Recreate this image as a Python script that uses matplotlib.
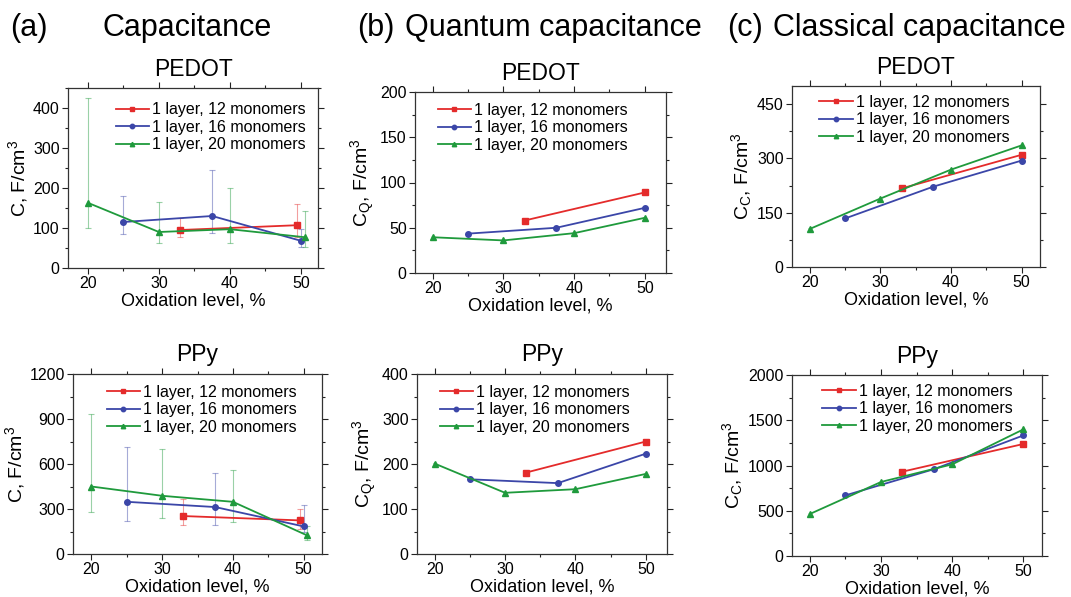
import matplotlib
matplotlib.use("Agg")

import numpy as np
import matplotlib.pyplot as plt
from matplotlib.ticker import MultipleLocator

plt.rcParams["font.family"] = ["Liberation Sans", "DejaVu Sans"]
plt.rcParams["mathtext.fontset"] = "custom"
plt.rcParams["mathtext.rm"] = "Liberation Sans"
plt.rcParams["mathtext.it"] = "Liberation Sans"

# ---------------------------------------------------------------------------
# Data
# ---------------------------------------------------------------------------
LABELS = ["1 layer, 12 monomers", "1 layer, 16 monomers", "1 layer, 20 monomers"]
COLORS = ["#e42b2b", "#3b46a8", "#1f9a3c"]
MARKERS = ["s", "o", "^"]

# oxidation levels (slight offsets at 50 % in panel a, as in the original)
x12 = [33, 50]
x16 = [25, 37.5, 50]
x20 = [20, 30, 40, 50]
x12_err = [33, 49.5]
x20_err = [20, 30, 40, 50.5]

# (a) total capacitance, with error bars (low / high)
c_pedot_12 = [95, 107]
c_pedot_12_lo = [77, 78]
c_pedot_12_hi = [124, 160]
c_pedot_16 = [115, 130, 68]
c_pedot_16_lo = [85, 88, 52]
c_pedot_16_hi = [181, 244, 97]
c_pedot_20 = [163, 90, 97, 77]
c_pedot_20_lo = [101, 62, 62, 52]
c_pedot_20_hi = [425, 164, 201, 143]

c_ppy_12 = [253, 224]
c_ppy_12_lo = [191, 165]
c_ppy_12_hi = [368, 300]
c_ppy_16 = [348, 313, 184]
c_ppy_16_lo = [217, 191, 144]
c_ppy_16_hi = [716, 543, 326]
c_ppy_20 = [450, 388, 348, 124]
c_ppy_20_lo = [280, 237, 213, 91]
c_ppy_20_hi = [934, 699, 557, 184]

# (b) quantum capacitance
cq_pedot_12 = [58, 89]
cq_pedot_16 = [43.5, 50, 72]
cq_pedot_20 = [39.5, 36, 44, 61]
cq_ppy_12 = [181, 250]
cq_ppy_16 = [166, 157.5, 223]
cq_ppy_20 = [201, 136, 144, 178]

# (c) classical capacitance
cc_pedot_12 = [217, 310]
cc_pedot_16 = [134, 222, 294]
cc_pedot_20 = [105, 189, 269, 336]
cc_ppy_12 = [932, 1238]
cc_ppy_16 = [670, 961, 1333]
cc_ppy_20 = [464, 818, 1013, 1400]

# ---------------------------------------------------------------------------
# Figure
# ---------------------------------------------------------------------------
W, H = 1071, 597
fig = plt.figure(figsize=(W / 100, H / 100), dpi=100)


def px_axes(left, right, top, bottom):
    return fig.add_axes([left / W, 1 - bottom / H, (right - left) / W, (bottom - top) / H])


def style(ax, xlim, ylim, ymaj, ymin, ylabel, title):
    ax.set_xlim(*xlim)
    ax.set_ylim(*ylim)
    ax.xaxis.set_major_locator(MultipleLocator(10))
    ax.xaxis.set_minor_locator(MultipleLocator(5))
    ax.yaxis.set_major_locator(MultipleLocator(ymaj))
    ax.yaxis.set_minor_locator(MultipleLocator(ymin))
    ax.tick_params(which="both", direction="out", top=True, right=True,
                   labeltop=False, labelright=False, labelsize=11.5, width=0.8,
                   colors="#222222", labelcolor="black", pad=2)
    ax.tick_params(which="major", length=4)
    ax.tick_params(which="minor", length=2.5)
    for s in ax.spines.values():
        s.set_linewidth(0.9)
        s.set_color("#333333")
    ax.set_xlabel("Oxidation level, %", fontsize=13, labelpad=1)
    ax.set_ylabel(ylabel, fontsize=14, labelpad=2)
    ax.set_title(title, fontsize=16.5, pad=9)


def draw(ax, xs_list, ys_list, errs=None):
    for i, (xs, ys) in enumerate(zip(xs_list, ys_list)):
        if errs is not None:
            ex, lo, hi = errs[i]
            ye = np.array(ys)
            ax.errorbar(ex, ye, yerr=[ye - np.array(lo), np.array(hi) - ye],
                        fmt="none", ecolor=COLORS[i], alpha=0.45,
                        elinewidth=0.8, capsize=2, capthick=0.8, zorder=2)
        ax.plot(xs, ys, color=COLORS[i], marker=MARKERS[i], markersize=4,
                lw=1.3, label=LABELS[i], zorder=3)


def legend(ax, x0, y0):
    ax.legend(loc="upper left", bbox_to_anchor=(x0, y0), frameon=False,
              fontsize=11.5, handlelength=2.1, handletextpad=0.2,
              labelspacing=0.15, borderaxespad=0, borderpad=0,
              markerscale=0.8)


YL_C = r"C, F/cm$^3$"
YL_Q = r"C$_\mathregular{Q}$, F/cm$^3$"
YL_CC = r"C$_\mathregular{C}$, F/cm$^3$"

# (a) PEDOT
ax = px_axes(68, 318, 88, 268)
xa = [x12_err, x16, x20_err]
draw(ax, xa, [c_pedot_12, c_pedot_16, c_pedot_20],
     errs=[(x12_err, c_pedot_12_lo, c_pedot_12_hi),
           (x16, c_pedot_16_lo, c_pedot_16_hi),
           (x20_err, c_pedot_20_lo, c_pedot_20_hi)])
style(ax, (17.2, 52.4), (0, 450), 100, 50, YL_C, "PEDOT")
legend(ax, 0.19, 0.92)

# (a) PPy
ax = px_axes(73, 322, 374, 554)
draw(ax, xa, [c_ppy_12, c_ppy_16, c_ppy_20],
     errs=[(x12_err, c_ppy_12_lo, c_ppy_12_hi),
           (x16, c_ppy_16_lo, c_ppy_16_hi),
           (x20_err, c_ppy_20_lo, c_ppy_20_hi)])
style(ax, (17.4, 52.6), (0, 1200), 300, 150, YL_C, "PPy")
legend(ax, 0.135, 0.94)

# (b) PEDOT
ax = px_axes(415, 666, 92, 273)
draw(ax, [x12, x16, x20], [cq_pedot_12, cq_pedot_16, cq_pedot_20])
style(ax, (17.5, 53.0), (0, 200), 50, 25, YL_Q, "PEDOT")
legend(ax, 0.09, 0.94)

# (b) PPy
ax = px_axes(417, 667, 374, 554)
draw(ax, [x12, x16, x20], [cq_ppy_12, cq_ppy_16, cq_ppy_20])
style(ax, (17.5, 53.0), (0, 400), 100, 50, YL_Q, "PPy")
legend(ax, 0.09, 0.94)

# (c) PEDOT
ax = px_axes(792, 1040, 86, 267)
draw(ax, [x12, x16, x20], [cc_pedot_12, cc_pedot_16, cc_pedot_20])
style(ax, (17.5, 52.6), (0, 500), 150, 75, YL_CC, "PEDOT")
legend(ax, 0.11, 0.95)

# (c) PPy
ax = px_axes(792, 1042, 375, 556)
draw(ax, [x12, x16, x20], [cc_ppy_12, cc_ppy_16, cc_ppy_20])
style(ax, (17.5, 52.6), (0, 2000), 500, 250, YL_CC, "PPy")
legend(ax, 0.12, 0.95)

# ── Panel headings ───────────────────────────────────────────────────────────
head_kw = dict(fontsize=22, va="baseline")
fig.text(10 / W, 1 - 36 / H, "(a)", **head_kw)
fig.text(103 / W, 1 - 36 / H, "Capacitance", **head_kw)
fig.text(357 / W, 1 - 36 / H, "(b)", **head_kw)
fig.text(405 / W, 1 - 36 / H, "Quantum capacitance", **head_kw)
fig.text(727 / W, 1 - 36 / H, "(c)", **head_kw)
fig.text(773 / W, 1 - 36 / H, "Classical capacitance", **head_kw)

fig.savefig("out.png", dpi=100, facecolor="white")
